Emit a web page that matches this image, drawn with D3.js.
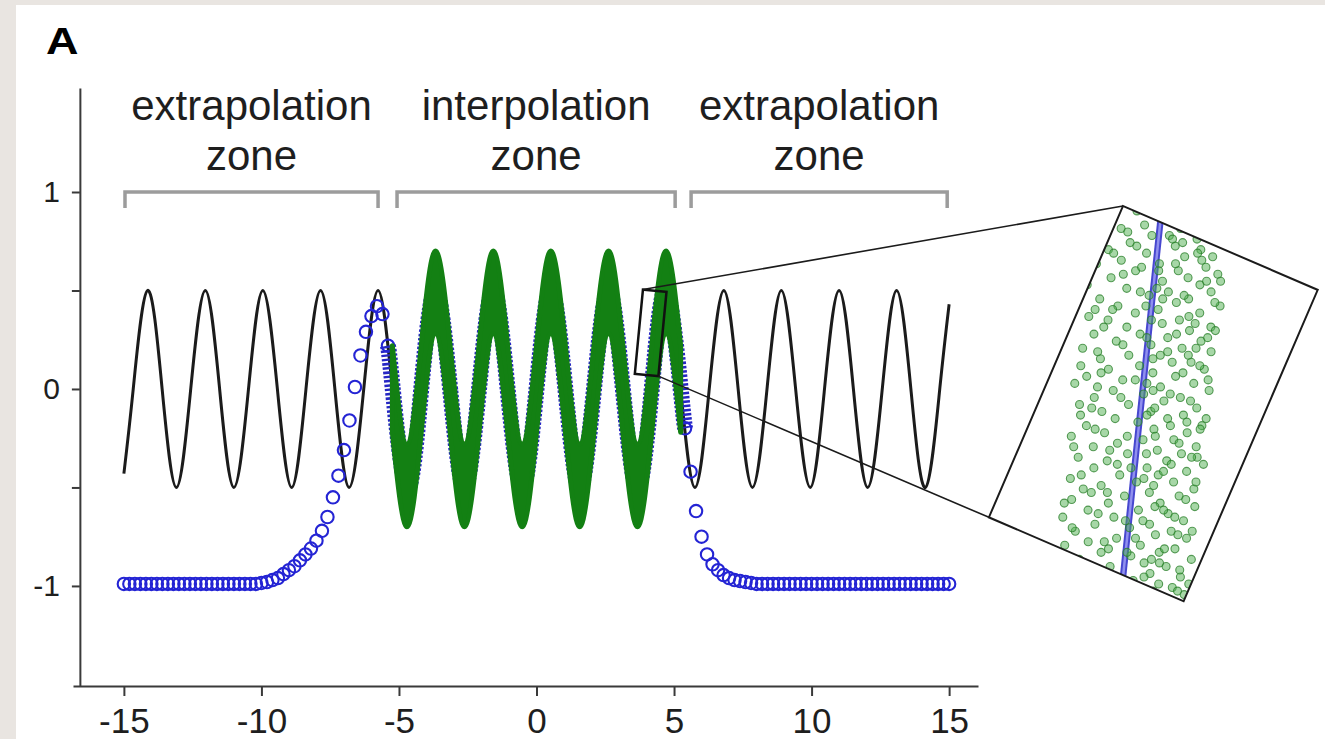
<!DOCTYPE html>
<html>
<head>
<meta charset="utf-8">
<script src="https://cdn.jsdelivr.net/npm/d3@7"></script>
<style>
  body { margin: 0; background: #e9e5e1; }
  svg text { font-family: 'Liberation Sans', Arial, Helvetica, sans-serif; fill: #1e1e1e; }
</style>
</head>
<body>
<script>
'use strict';

// ---- values ----
var xTicks = [-15, -10, -5, 0, 5, 10, 15];
var yTicks = [-1, -0.5, 0, 0.5, 1];
var yTickLabels = ['-1', '', '0', '', '1'];

var zoneNames = ['extrapolation', 'interpolation', 'extrapolation'];
var zoneStart = [-14.96, -5.07, 5.62];
var zoneEnd = [-5.76, 5.04, 14.93];

// ground truth (black): peaks, troughs and crossings
var trueX = [-15, -14.66, -14.14, -13.61, -13.09, -12.57, -12.04, -11.52, -11.00, -10.47,
  -9.95, -9.42, -8.90, -8.38, -7.85, -7.33, -6.81, -6.28, -5.76, -5.24,
  -4.71, -4.19, -3.67, -3.14, -2.62, -2.09, -1.57, -1.05, -0.52, 0,
  0.52, 1.05, 1.57, 2.09, 2.62, 3.14, 3.67, 4.19, 4.71, 5.24,
  5.76, 6.28, 6.81, 7.33, 7.85, 8.38, 8.90, 9.42, 9.95, 10.47,
  11.00, 11.52, 12.04, 12.57, 13.09, 13.61, 14.14, 14.66, 15];
var trueY = [-0.43, 0, 0.5, 0, -0.5, 0, 0.5, 0, -0.5, 0,
  0.5, 0, -0.5, 0, 0.5, 0, -0.5, 0, 0.5, 0,
  -0.5, 0, 0.5, 0, -0.5, 0, 0.5, 0, -0.5, 0,
  0.5, 0, -0.5, 0, 0.5, 0, -0.5, 0, 0.5, 0,
  -0.5, 0, 0.5, 0, -0.5, 0, 0.5, 0, -0.5, 0,
  0.5, 0, -0.5, 0, 0.5, 0, -0.5, 0, 0.43];

// network fit (blue circles), left tail
var fitLeftX = [-15, -14.8, -14.6, -14.4, -14.2, -14, -13.8, -13.6, -13.4, -13.2,
  -13, -12.8, -12.6, -12.4, -12.2, -12, -11.8, -11.6, -11.4, -11.2,
  -11, -10.8, -10.6, -10.4, -10.2, -10, -9.8, -9.6, -9.4, -9.2,
  -9, -8.8, -8.6, -8.4, -8.2, -8, -7.8, -7.6, -7.4, -7.2,
  -7, -6.8, -6.6, -6.4, -6.2, -6, -5.8, -5.6, -5.4];
var fitLeftY = [-0.99, -0.99, -0.99, -0.99, -0.99, -0.99, -0.99, -0.99, -0.99, -0.99,
  -0.99, -0.99, -0.99, -0.99, -0.99, -0.99, -0.99, -0.99, -0.99, -0.99,
  -0.99, -0.99, -0.99, -0.99, -0.99, -0.985, -0.98, -0.97, -0.96, -0.94,
  -0.92, -0.90, -0.87, -0.84, -0.81, -0.77, -0.72, -0.65, -0.55, -0.44,
  -0.31, -0.16, 0.01, 0.17, 0.29, 0.37, 0.42, 0.38, 0.22];

// network fit inside the training range (mostly hidden under the green band)
var fitMidX = [-5.4, -5.24, -4.71, -4.19, -3.67, -3.14, -2.62, -2.09, -1.57, -1.05,
  -0.52, 0, 0.52, 1.05, 1.57, 2.09, 2.62, 3.14, 3.67, 4.19,
  4.71, 5.24, 5.4];
var fitMidY = [0.22, 0.02, -0.5, 0, 0.5, 0, -0.5, 0, 0.5, 0,
  -0.5, 0, 0.5, 0, -0.5, 0, 0.5, 0, -0.5, 0,
  0.5, 0, -0.2];

// network fit, right tail
var fitRightX = [5.4, 5.6, 5.8, 6, 6.2, 6.4, 6.6, 6.8, 7, 7.2,
  7.4, 7.6, 7.8, 8, 8.2, 8.4, 8.6, 8.8, 9, 9.2,
  9.4, 9.6, 9.8, 10, 10.2, 10.4, 10.6, 10.8, 11, 11.2,
  11.4, 11.6, 11.8, 12, 12.2, 12.4, 12.6, 12.8, 13, 13.2,
  13.4, 13.6, 13.8, 14, 14.2, 14.4, 14.6, 14.8, 15];
var fitRightY = [-0.2, -0.42, -0.62, -0.75, -0.84, -0.89, -0.92, -0.945, -0.96, -0.97,
  -0.975, -0.98, -0.985, -0.99, -0.99, -0.99, -0.99, -0.99, -0.99, -0.99,
  -0.99, -0.99, -0.99, -0.99, -0.99, -0.99, -0.99, -0.99, -0.99, -0.99,
  -0.99, -0.99, -0.99, -0.99, -0.99, -0.99, -0.99, -0.99, -0.99, -0.99,
  -0.99, -0.99, -0.99, -0.99, -0.99, -0.99, -0.99, -0.99, -0.99];

// training data (green): upper and lower edge of the noisy band
var trainX = [-5.24, -4.71, -4.19, -3.67, -3.14, -2.62, -2.09, -1.57, -1.05, -0.52,
  0, 0.52, 1.05, 1.57, 2.09, 2.62, 3.14, 3.67, 4.19, 4.71, 5.24];
var trainHi = [0.22, -0.28, 0.22, 0.70, 0.22, -0.28, 0.22, 0.70, 0.22, -0.28,
  0.22, 0.70, 0.22, -0.28, 0.22, 0.70, 0.22, -0.28, 0.22, 0.70, 0.22];
var trainLo = [-0.22, -0.70, -0.22, 0.28, -0.22, -0.70, -0.22, 0.28, -0.22, -0.70,
  -0.22, 0.28, -0.22, -0.70, -0.22, 0.28, -0.22, -0.70, -0.22, 0.28, -0.22];

// magnified window: x0, x1, y0, y1
var zoomBox = [3.72, 4.58, 0.07, 0.5];

// inset dots: [position along the fit line (0 top .. 1 bottom), spread (-1 .. 1)]
var insetDots = [
  [-0.05, 0.10], [-0.04, -0.35], [-0.03, 0.42], [-0.02, 0.05], [-0.01, 0.68], [0.00, -0.22], [0.01, 0.30], [0.01, -0.55],
  [0.02, 0.85], [0.03, 0.15], [0.03, -0.10], [0.04, 0.55], [0.05, -0.40], [0.05, 0.95], [0.06, 0.25], [0.07, -0.70],
  [0.07, 0.62], [0.08, -0.15], [0.09, 0.40], [0.09, 0.80], [0.10, -0.50], [0.11, 0.05], [0.11, -0.85], [0.12, 0.72],
  [0.13, 0.33], [0.13, -0.28], [0.14, 0.90], [0.15, -0.62], [0.15, 0.48], [0.16, 0.12], [0.17, -0.95], [0.17, 0.66],
  [0.18, -0.38], [0.19, 0.22], [0.19, 0.83], [0.20, -0.05], [0.21, -0.75], [0.21, 0.52], [0.22, 0.35], [0.23, -0.48],
  [0.23, 0.98], [0.24, 0.10], [0.25, -0.22], [0.25, 0.70], [0.26, -0.88], [0.27, 0.42], [0.27, -0.60], [0.28, 0.18],
  [0.29, 0.88], [0.29, -0.32], [0.30, 0.58], [0.31, -0.12], [0.31, -0.78], [0.32, 0.28], [0.33, 0.76], [0.33, -0.45],
  [0.34, 0.05], [0.35, -0.92], [0.35, 0.50], [0.36, 0.92], [0.37, -0.25], [0.37, 0.20], [0.38, -0.65], [0.39, 0.65],
  [0.39, 0.38], [0.40, -0.08], [0.41, -0.52], [0.41, 0.85], [0.42, 0.12], [0.43, -0.82], [0.43, 0.45], [0.44, -0.30],
  [0.45, 0.72], [0.45, -0.98], [0.46, 0.25], [0.47, -0.42], [0.47, 0.95], [0.48, 0.02], [0.49, -0.68], [0.49, 0.55],
  [0.50, 0.32], [0.51, -0.18], [0.51, -0.88], [0.52, 0.80], [0.53, 0.15], [0.53, -0.55], [0.54, 0.62], [0.55, -0.35],
  [0.55, 0.40], [0.56, -0.02], [0.57, 0.90], [0.57, -0.75], [0.58, 0.22], [0.59, -0.48], [0.59, 0.70], [0.60, -0.95],
  [0.61, 0.08], [0.61, 0.52], [0.62, -0.28], [0.63, 0.85], [0.63, -0.62], [0.64, 0.30], [0.65, -0.12], [0.65, 0.65],
  [0.66, -0.82], [0.67, 0.45], [0.67, -0.40], [0.68, 0.98], [0.69, 0.18], [0.69, -0.58], [0.70, 0.75], [0.71, -0.20],
  [0.71, 0.35], [0.72, -0.90], [0.73, 0.58], [0.73, 0.05], [0.74, -0.45], [0.75, 0.88], [0.75, -0.70], [0.76, 0.25],
  [0.77, -0.10], [0.77, 0.68], [0.78, -0.85], [0.79, 0.42], [0.79, -0.32], [0.80, 0.92], [0.81, 0.12], [0.81, -0.60],
  [0.82, 0.55], [0.83, -0.22], [0.83, -0.95], [0.84, 0.78], [0.85, 0.30], [0.85, -0.48], [0.86, 0.02], [0.87, 0.62],
  [0.87, -0.75], [0.88, 0.40], [0.89, -0.15], [0.89, 0.85], [0.90, -0.55], [0.91, 0.20], [0.91, -0.88], [0.92, 0.70],
  [0.93, -0.35], [0.93, 0.48], [0.94, 0.08], [0.95, -0.65], [0.95, 0.95], [0.96, 0.28], [0.97, -0.20], [0.97, 0.60],
  [0.98, -0.80], [0.99, 0.38], [0.99, -0.42], [1.00, 0.82], [1.01, 0.15], [1.01, -0.60], [1.02, 0.52], [1.03, -0.05],
  [1.03, 0.72], [1.04, -0.30], [1.05, 0.35], [1.05, 0.90], [1.06, -0.50], [1.07, 0.62], [1.07, 0.10], [1.08, 0.45],
  [0.04, 0.20], [0.08, 0.58], [0.12, -0.20], [0.16, 0.75], [0.20, 0.45], [0.24, -0.55], [0.28, 0.65], [0.32, -0.02],
  [0.36, 0.30], [0.40, 0.78], [0.44, -0.12], [0.48, 0.40], [0.52, -0.70], [0.56, 0.68], [0.60, 0.25], [0.64, -0.38],
  [0.68, 0.52], [0.72, 0.15], [0.76, -0.58], [0.80, 0.35], [0.84, -0.05], [0.88, 0.72], [0.92, -0.25], [0.96, 0.50],
  [1.00, -0.15], [1.04, 0.80], [0.06, -0.30], [0.18, 0.05], [0.30, 0.95], [0.42, -0.62], [0.54, 0.10], [0.66, 0.88],
  [0.02, -0.45], [0.05, 0.35], [0.08, -0.62], [0.10, 0.65], [0.13, 0.05], [0.14, -0.45], [0.16, 0.95], [0.19, -0.18],
  [0.21, 0.15], [0.22, 0.90], [0.24, -0.80], [0.26, 0.55], [0.27, 0.02], [0.29, -0.65], [0.31, 0.40], [0.32, 0.85],
  [0.34, -0.35], [0.36, -0.70], [0.37, 0.60], [0.38, 0.10], [0.40, -0.92], [0.42, 0.55], [0.44, 0.92], [0.46, -0.65],
  [0.47, 0.15], [0.49, -0.30], [0.50, 0.70], [0.52, 0.20], [0.54, -0.85], [0.55, 0.95], [0.57, 0.45], [0.58, -0.62],
  [0.60, -0.15], [0.62, 0.60], [0.63, -0.90], [0.65, 0.15], [0.66, 0.80], [0.68, -0.25], [0.70, 0.42], [0.71, -0.75],
  [0.73, 0.90], [0.74, 0.30], [0.76, -0.35], [0.78, 0.78], [0.79, -0.95], [0.81, 0.48], [0.82, -0.45], [0.84, 0.20],
  [0.86, -0.80], [0.87, 0.92], [0.89, 0.12], [0.90, -0.32], [0.92, 0.55], [0.94, -0.90], [0.95, 0.38], [0.97, -0.55],
  [0.98, 0.80], [1.00, 0.30], [1.02, -0.35], [1.04, 0.45], [1.06, 0.20], [0.11, 0.28], [0.23, -0.08], [0.35, 0.70],
  [0.45, 0.05], [0.58, 0.88], [0.69, -0.05], [0.83, 0.65], [0.93, 0.02], [1.02, 0.95]
];

// ---- layout ----
var width = 1325,
  height = 739;
var frame = { x: 1123, y: 206, w: 212, h: 339, angle: 23.3 };

var svg = d3.select('body')
  .append('svg')
  .attr('width', width)
  .attr('height', height);

svg.append('rect')
  .attr('x', 16).attr('y', 5)
  .attr('width', width - 16).attr('height', height - 5)
  .attr('fill', '#fff');

var x = d3.scaleLinear().domain([-16.85, 16.05]).range([73, 978]);
var y = d3.scaleLinear().domain([-1.508, 1.528]).range([686, 88]);

// panel letter
svg.append('text')
  .attr('transform', 'translate(46,54) scale(1.25,1)')
  .attr('font-size', 36)
  .attr('font-weight', 'bold')
  .style('fill', '#000')
  .text('A');

// axes
var xAxis = svg.append('g')
  .attr('transform', 'translate(0,' + y(-1.508) + ')')
  .call(d3.axisBottom(x).tickValues(xTicks).tickSize(10).tickSizeOuter(0).tickPadding(12)
    .tickFormat(function (d) { return String(d); }));

var yAxis = svg.append('g')
  .attr('transform', 'translate(' + x(-16.6) + ',0)')
  .call(d3.axisLeft(y).tickValues(yTicks).tickSize(8).tickSizeOuter(0).tickPadding(12)
    .tickFormat(function (d, i) { return yTickLabels[i]; }));

xAxis.selectAll('text').attr('font-size', 35);
yAxis.selectAll('text').attr('font-size', 30);
[xAxis, yAxis].forEach(function (a) {
  a.attr('font-family', null);
  a.select('.domain').attr('stroke', '#3a3a3a').attr('stroke-width', 2);
  a.selectAll('.tick line').attr('stroke', '#3a3a3a').attr('stroke-width', 2);
});

// zone brackets and labels
var zones = svg.append('g');
zoneNames.forEach(function (name, i) {
  var x0 = x(zoneStart[i]),
    x1 = x(zoneEnd[i]),
    yb = y(1);
  zones.append('path')
    .attr('d', 'M' + x0 + ',' + (yb + 16) + 'V' + yb + 'H' + x1 + 'V' + (yb + 16))
    .attr('fill', 'none')
    .attr('stroke', '#9c9c9c')
    .attr('stroke-width', 3.5);
  zones.append('text')
    .attr('x', (x0 + x1) / 2)
    .attr('y', yb - 72)
    .attr('text-anchor', 'middle')
    .attr('font-size', 42)
    .text(name);
  zones.append('text')
    .attr('x', (x0 + x1) / 2)
    .attr('y', yb - 22)
    .attr('text-anchor', 'middle')
    .attr('font-size', 42)
    .text('zone');
});

var line = d3.line()
  .x(function (d) { return x(d[0]); })
  .y(function (d) { return y(d[1]); })
  .curve(d3.curveNatural);

// black ground truth
svg.append('path')
  .datum(d3.zip(trueX, trueY))
  .attr('d', line)
  .attr('fill', 'none')
  .attr('stroke', '#1b1b1b')
  .attr('stroke-width', 3);

// blue fit: dense part under the data
svg.append('path')
  .datum(d3.zip(fitMidX, fitMidY))
  .attr('d', line)
  .attr('fill', 'none')
  .attr('stroke', '#2626c4')
  .attr('stroke-width', 16)
  .attr('stroke-dasharray', '2.5,1.8');

// blue fit: tails as open circles
var tails = d3.zip(fitLeftX, fitLeftY).concat(d3.zip(fitRightX, fitRightY));
svg.append('g')
  .selectAll('circle')
  .data(tails)
  .enter()
  .append('circle')
  .attr('cx', function (d) { return x(d[0]); })
  .attr('cy', function (d) { return y(d[1]); })
  .attr('r', 6.2)
  .attr('fill', 'none')
  .attr('stroke', '#2424d4')
  .attr('stroke-width', 2.1);

// green training band
var band = d3.area()
  .x(function (d) { return x(d[0]); })
  .y0(function (d) { return y(d[2]); })
  .y1(function (d) { return y(d[1]); })
  .curve(d3.curveNatural);

svg.append('path')
  .datum(d3.zip(trainX, trainHi, trainLo))
  .attr('d', band)
  .attr('fill', '#138013')
  .attr('stroke', '#138013')
  .attr('stroke-width', 5)
  .attr('stroke-linejoin', 'round');

// magnified window in the main axes
var bx0 = x(zoomBox[0]), bx1 = x(zoomBox[1]),
  by0 = y(zoomBox[3]), by1 = y(zoomBox[2]),
  bcx = (bx0 + bx1) / 2, bcy = (by0 + by1) / 2,
  tilt = 5.5 * Math.PI / 180;

function boxCorner(px, py) {
  var dx = px - bcx, dy = py - bcy;
  return [bcx + dx * Math.cos(tilt) - dy * Math.sin(tilt),
    bcy + dx * Math.sin(tilt) + dy * Math.cos(tilt)];
}

svg.append('rect')
  .attr('x', bx0).attr('y', by0)
  .attr('width', bx1 - bx0).attr('height', by1 - by0)
  .attr('transform', 'rotate(5.5,' + bcx + ',' + bcy + ')')
  .attr('fill', 'none')
  .attr('stroke', '#111')
  .attr('stroke-width', 2.5);

var th = frame.angle * Math.PI / 180;
var frameBL = [frame.x - frame.h * Math.sin(th), frame.y + frame.h * Math.cos(th)];
var boxTL = boxCorner(bx0, by0),
  boxBR = boxCorner(bx1, by1);

svg.append('path')
  .attr('d', 'M' + boxTL + 'L' + [frame.x, frame.y] + 'M' + boxBR + 'L' + frameBL)
  .attr('fill', 'none')
  .attr('stroke', '#1b1b1b')
  .attr('stroke-width', 1.6);

// inset
var defs = svg.append('defs');
defs.append('clipPath')
  .attr('id', 'inset-clip')
  .append('rect')
  .attr('width', frame.w)
  .attr('height', frame.h)
  .attr('transform', 'translate(' + frame.x + ',' + frame.y + ') rotate(' + frame.angle + ')');

svg.append('rect')
  .attr('width', frame.w)
  .attr('height', frame.h)
  .attr('transform', 'translate(' + frame.x + ',' + frame.y + ') rotate(' + frame.angle + ')')
  .attr('fill', '#fff');

var inset = svg.append('g').attr('clip-path', 'url(#inset-clip)');

var along = d3.scaleLinear().domain([0, 1]).range([225, 577]);
var alongX = d3.scaleLinear().domain([0, 1]).range([1160, 1123]);
var spread = d3.scaleLinear().domain([-1, 1]).range([-70, 70]);

inset.append('line')
  .attr('x1', alongX(-0.03)).attr('y1', along(-0.03))
  .attr('x2', alongX(1.03)).attr('y2', along(1.03))
  .attr('stroke', '#4747cf')
  .attr('stroke-width', 6.5);
inset.append('line')
  .attr('x1', alongX(-0.03)).attr('y1', along(-0.03))
  .attr('x2', alongX(1.03)).attr('y2', along(1.03))
  .attr('stroke', '#9090ee')
  .attr('stroke-width', 2.5);

inset.selectAll('circle')
  .data(insetDots)
  .enter()
  .append('circle')
  .attr('cx', function (d) { return alongX(d[0]) + spread(d[1]); })
  .attr('cy', function (d) { return along(d[0]); })
  .attr('r', 4)
  .attr('fill', 'rgba(80,175,80,0.5)')
  .attr('stroke', 'rgba(40,125,40,0.75)')
  .attr('stroke-width', 1.1);

svg.append('rect')
  .attr('width', frame.w)
  .attr('height', frame.h)
  .attr('transform', 'translate(' + frame.x + ',' + frame.y + ') rotate(' + frame.angle + ')')
  .attr('fill', 'none')
  .attr('stroke', '#1b1b1b')
  .attr('stroke-width', 2);
</script>
</body>
</html>
